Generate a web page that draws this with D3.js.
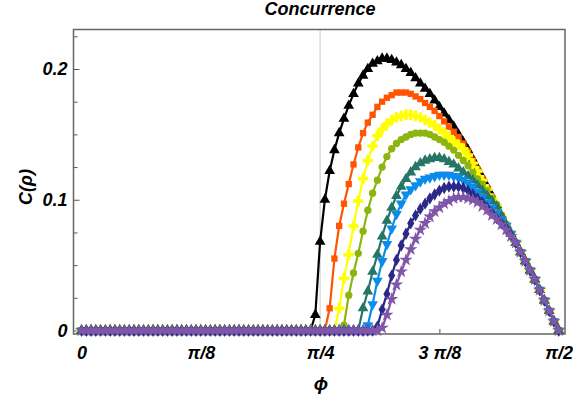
<!DOCTYPE html>
<html>
<head>
<meta charset="utf-8">
<script src="https://cdn.jsdelivr.net/npm/d3@7"></script>
<style>
  body { margin: 0; background: #fff; }
  svg text { font-family: "Liberation Sans", Arial, sans-serif; font-weight: bold; font-style: italic; fill: #000; }
</style>
</head>
<body>
<svg id="canvas"></svg>
<script>
let width = 573;
let height = 400;

// phi sampled every pi/200 from 0 to pi/2 -> 101 samples per curve
let sampleCount = 101;

let xTicks = [0, Math.PI / 8, Math.PI / 4, 3 * Math.PI / 8, Math.PI / 2];
let xTickLabels = ['0', 'π/8', 'π/4', '3 π/8', 'π/2'];
let yTicks = [0, 0.1, 0.2];
let yTickLabels = ['0', '0.1', '0.2'];
let yMinorTicks = [0.025, 0.05, 0.075, 0.125, 0.15, 0.175, 0.225];

let seriesColors = ['#000000', '#ff5500', '#ffff00', '#8db50e', '#267565', '#0a8ceb', '#2b2887', '#7e57a8'];
let seriesSymbols = ['triangle', 'square', 'cross', 'circle', 'triangle', 'triangleDown', 'diamond', 'star'];

let blackC = [
  0, 0, 0, 0, 0, 0, 0, 0, 0, 0,
  0, 0, 0, 0, 0, 0, 0, 0, 0, 0,
  0, 0, 0, 0, 0, 0, 0, 0, 0, 0,
  0, 0, 0, 0, 0, 0, 0, 0, 0, 0,
  0, 0, 0, 0, 0, 0, 0, 0, 0, 0.012,
  0.068, 0.100, 0.122, 0.138, 0.151, 0.162, 0.172, 0.181, 0.189, 0.195,
  0.200, 0.204, 0.206, 0.208, 0.208, 0.207, 0.205, 0.203, 0.200, 0.197,
  0.193, 0.189, 0.185, 0.181, 0.176, 0.171, 0.166, 0.161, 0.156, 0.150,
  0.144, 0.138, 0.131, 0.124, 0.117, 0.110, 0.103, 0.096, 0.088, 0.081,
  0.074, 0.067, 0.060, 0.053, 0.046, 0.039, 0.031, 0.023, 0.015, 0.007,
  0
];
let orangeC = [
  0, 0, 0, 0, 0, 0, 0, 0, 0, 0,
  0, 0, 0, 0, 0, 0, 0, 0, 0, 0,
  0, 0, 0, 0, 0, 0, 0, 0, 0, 0,
  0, 0, 0, 0, 0, 0, 0, 0, 0, 0,
  0, 0, 0, 0, 0, 0, 0, 0, 0, 0,
  0, 0, 0.017, 0.055, 0.080, 0.097, 0.112, 0.127, 0.140, 0.151,
  0.159, 0.165, 0.171, 0.175, 0.178, 0.180, 0.182, 0.182, 0.182, 0.181,
  0.179, 0.177, 0.174, 0.171, 0.168, 0.164, 0.160, 0.156, 0.152, 0.148,
  0.143, 0.137, 0.130, 0.123, 0.116, 0.109, 0.102, 0.096, 0.088, 0.081,
  0.074, 0.067, 0.060, 0.053, 0.046, 0.039, 0.031, 0.023, 0.015, 0.007,
  0
];
let yellowC = [
  0, 0, 0, 0, 0, 0, 0, 0, 0, 0,
  0, 0, 0, 0, 0, 0, 0, 0, 0, 0,
  0, 0, 0, 0, 0, 0, 0, 0, 0, 0,
  0, 0, 0, 0, 0, 0, 0, 0, 0, 0,
  0, 0, 0, 0, 0, 0, 0, 0, 0, 0,
  0, 0, 0, 0, 0.017, 0.040, 0.058, 0.080, 0.099, 0.116,
  0.130, 0.141, 0.149, 0.154, 0.158, 0.161, 0.163, 0.164, 0.165, 0.165,
  0.164, 0.163, 0.161, 0.159, 0.157, 0.154, 0.151, 0.148, 0.145, 0.142,
  0.139, 0.134, 0.128, 0.122, 0.115, 0.108, 0.101, 0.096, 0.088, 0.081,
  0.074, 0.067, 0.060, 0.053, 0.046, 0.039, 0.031, 0.023, 0.015, 0.007,
  0
];
let greenC = [
  0, 0, 0, 0, 0, 0, 0, 0, 0, 0,
  0, 0, 0, 0, 0, 0, 0, 0, 0, 0,
  0, 0, 0, 0, 0, 0, 0, 0, 0, 0,
  0, 0, 0, 0, 0, 0, 0, 0, 0, 0,
  0, 0, 0, 0, 0, 0, 0, 0, 0, 0,
  0, 0, 0, 0, 0, 0.004, 0.027, 0.044, 0.059, 0.076,
  0.092, 0.105, 0.115, 0.125, 0.133, 0.139, 0.143, 0.146, 0.148, 0.150,
  0.151, 0.151, 0.151, 0.150, 0.148, 0.146, 0.144, 0.141, 0.138, 0.134,
  0.130, 0.126, 0.121, 0.116, 0.112, 0.107, 0.101, 0.096, 0.088, 0.081,
  0.074, 0.067, 0.060, 0.053, 0.046, 0.039, 0.031, 0.023, 0.015, 0.007,
  0
];
let tealC = [
  0, 0, 0, 0, 0, 0, 0, 0, 0, 0,
  0, 0, 0, 0, 0, 0, 0, 0, 0, 0,
  0, 0, 0, 0, 0, 0, 0, 0, 0, 0,
  0, 0, 0, 0, 0, 0, 0, 0, 0, 0,
  0, 0, 0, 0, 0, 0, 0, 0, 0, 0,
  0, 0, 0, 0, 0, 0, 0, 0, 0, 0.017,
  0.030, 0.045, 0.058, 0.072, 0.084, 0.094, 0.103, 0.110, 0.116, 0.121,
  0.125, 0.128, 0.130, 0.131, 0.132, 0.132, 0.131, 0.129, 0.127, 0.124,
  0.121, 0.118, 0.115, 0.111, 0.107, 0.103, 0.099, 0.095, 0.088, 0.081,
  0.074, 0.067, 0.060, 0.053, 0.046, 0.039, 0.031, 0.023, 0.015, 0.007,
  0
];
let blueC = [
  0, 0, 0, 0, 0, 0, 0, 0, 0, 0,
  0, 0, 0, 0, 0, 0, 0, 0, 0, 0,
  0, 0, 0, 0, 0, 0, 0, 0, 0, 0,
  0, 0, 0, 0, 0, 0, 0, 0, 0, 0,
  0, 0, 0, 0, 0, 0, 0, 0, 0, 0,
  0, 0, 0, 0, 0, 0, 0, 0, 0, 0,
  0.004, 0.020, 0.038, 0.053, 0.066, 0.078, 0.089, 0.097, 0.104, 0.108,
  0.111, 0.114, 0.116, 0.117, 0.118, 0.119, 0.119, 0.119, 0.118, 0.117,
  0.115, 0.113, 0.110, 0.106, 0.102, 0.098, 0.094, 0.090, 0.085, 0.080,
  0.074, 0.067, 0.060, 0.053, 0.046, 0.039, 0.031, 0.023, 0.015, 0.007,
  0
];
let navyC = [
  0, 0, 0, 0, 0, 0, 0, 0, 0, 0,
  0, 0, 0, 0, 0, 0, 0, 0, 0, 0,
  0, 0, 0, 0, 0, 0, 0, 0, 0, 0,
  0, 0, 0, 0, 0, 0, 0, 0, 0, 0,
  0, 0, 0, 0, 0, 0, 0, 0, 0, 0,
  0, 0, 0, 0, 0, 0, 0, 0, 0, 0,
  0, 0, 0.003, 0.016, 0.028, 0.042, 0.054, 0.065, 0.074, 0.082,
  0.088, 0.093, 0.097, 0.101, 0.104, 0.107, 0.109, 0.110, 0.110, 0.110,
  0.109, 0.107, 0.104, 0.101, 0.098, 0.094, 0.090, 0.086, 0.082, 0.078,
  0.073, 0.067, 0.060, 0.053, 0.046, 0.039, 0.031, 0.023, 0.015, 0.007,
  0
];
let purpleC = [
  0, 0, 0, 0, 0, 0, 0, 0, 0, 0,
  0, 0, 0, 0, 0, 0, 0, 0, 0, 0,
  0, 0, 0, 0, 0, 0, 0, 0, 0, 0,
  0, 0, 0, 0, 0, 0, 0, 0, 0, 0,
  0, 0, 0, 0, 0, 0, 0, 0, 0, 0,
  0, 0, 0, 0, 0, 0, 0, 0, 0, 0,
  0, 0, 0, 0.002, 0.012, 0.024, 0.035, 0.045, 0.054, 0.062,
  0.070, 0.077, 0.082, 0.087, 0.091, 0.094, 0.097, 0.099, 0.101, 0.102,
  0.102, 0.101, 0.100, 0.098, 0.095, 0.092, 0.088, 0.085, 0.081, 0.077,
  0.072, 0.067, 0.060, 0.053, 0.046, 0.039, 0.031, 0.023, 0.015, 0.007,
  0
];

let allSeries = [blackC, orangeC, yellowC, greenC, tealC, blueC, navyC, purpleC];
let phi = d3.range(sampleCount).map((k) => k * Math.PI / 200);

let canvas = d3.select('#canvas')
               .attr('width', width)
               .attr('height', height);

let frame = { left: 73.5, top: 29.5, right: 565, bottom: 334 };

let xScale = d3.scaleLinear()
               .domain([0, Math.PI / 2])
               .range([81.5, 558.7]);

let yScale = d3.scaleLinear()
               .domain([0, 0.2])
               .range([330.5, 69]);

let symbolFor = (name) => {
    if (name === 'triangle') return d3.symbol(d3.symbolTriangle, 50);
    if (name === 'triangleDown') return d3.symbol(d3.symbolTriangle, 50);
    if (name === 'square') return d3.symbol(d3.symbolSquare, 40);
    if (name === 'cross') return d3.symbol(d3.symbolCross, 60);
    if (name === 'circle') return d3.symbol(d3.symbolCircle, 42);
    if (name === 'diamond') return d3.symbol(d3.symbolDiamond, 44);
    return d3.symbol(d3.symbolStar, 55);
};

let drawFrame = () => {
    canvas.append('rect')
          .attr('width', width)
          .attr('height', height)
          .attr('fill', '#fff');

    // faint vertical reference line at pi/4
    canvas.append('line')
          .attr('x1', xScale(Math.PI / 4))
          .attr('x2', xScale(Math.PI / 4))
          .attr('y1', frame.top)
          .attr('y2', frame.bottom)
          .attr('stroke', '#c8c8c8')
          .attr('stroke-width', 1);
};

let drawAxes = () => {
    let xAxis = d3.axisBottom(xScale)
                  .tickValues(xTicks)
                  .tickFormat((d, i) => xTickLabels[i])
                  .tickSizeInner(-5)
                  .tickSizeOuter(0)
                  .tickPadding(12);

    let gx = canvas.append('g')
                   .attr('id', 'x-axis')
                   .attr('transform', 'translate(0, ' + frame.bottom + ')')
                   .call(xAxis);
    gx.select('.domain').remove();
    gx.selectAll('line').attr('stroke', '#555');
    gx.selectAll('text')
      .style('font-size', '18px')
      .attr('fill', '#000');

    let yAxis = d3.axisLeft(yScale)
                  .tickValues(yTicks)
                  .tickFormat((d, i) => yTickLabels[i])
                  .tickSizeInner(-6)
                  .tickSizeOuter(0)
                  .tickPadding(6);

    let gy = canvas.append('g')
                   .attr('id', 'y-axis')
                   .attr('transform', 'translate(' + frame.left + ', 0)')
                   .call(yAxis);
    gy.select('.domain').remove();
    gy.selectAll('line').attr('stroke', '#555');
    gy.selectAll('text')
      .style('font-size', '18px')
      .attr('fill', '#000');

    let yMinor = d3.axisLeft(yScale)
                   .tickValues(yMinorTicks)
                   .tickFormat('')
                   .tickSizeInner(-4)
                   .tickSizeOuter(0);

    let gym = canvas.append('g')
                    .attr('transform', 'translate(' + frame.left + ', 0)')
                    .call(yMinor);
    gym.select('.domain').remove();
    gym.selectAll('line').attr('stroke', '#555');

    canvas.append('rect')
          .attr('x', frame.left)
          .attr('y', frame.top)
          .attr('width', frame.right - frame.left)
          .attr('height', frame.bottom - frame.top)
          .attr('fill', 'none')
          .attr('stroke', '#666')
          .attr('stroke-width', 1.5);
};

let drawSeries = () => {
    let line = d3.line()
                 .x((d) => xScale(d.phi))
                 .y((d) => yScale(d.c));

    allSeries.forEach((values, s) => {
        let points = values.map((c, i) => ({ phi: phi[i], c: c }));
        let color = seriesColors[s];
        let g = canvas.append('g').attr('class', 'series');

        g.append('path')
         .datum(points)
         .attr('d', line)
         .attr('fill', 'none')
         .attr('stroke', color)
         .attr('stroke-width', 2.2);

        let sym = symbolFor(seriesSymbols[s]);
        let flip = seriesSymbols[s] === 'triangleDown' ? ' rotate(180)' : '';

        g.selectAll('path.marker')
         .data(points)
         .enter()
         .append('path')
         .attr('class', 'marker')
         .attr('d', sym)
         .attr('transform', (d) => 'translate(' + xScale(d.phi) + ',' + yScale(d.c) + ')' + flip)
         .attr('fill', color);
    });
};

let drawLabels = () => {
    canvas.append('text')
          .attr('x', 320)
          .attr('y', 15)
          .attr('text-anchor', 'middle')
          .style('font-size', '18px')
          .text('Concurrence');

    canvas.append('text')
          .attr('transform', 'translate(32, 187) rotate(-90)')
          .attr('text-anchor', 'middle')
          .style('font-size', '18px')
          .text('C(ρ)');

    canvas.append('text')
          .attr('x', 321)
          .attr('y', 390)
          .attr('text-anchor', 'middle')
          .style('font-size', '19px')
          .text('ϕ');
};

drawFrame();
drawAxes();
drawSeries();
drawLabels();
</script>
</body>
</html>
